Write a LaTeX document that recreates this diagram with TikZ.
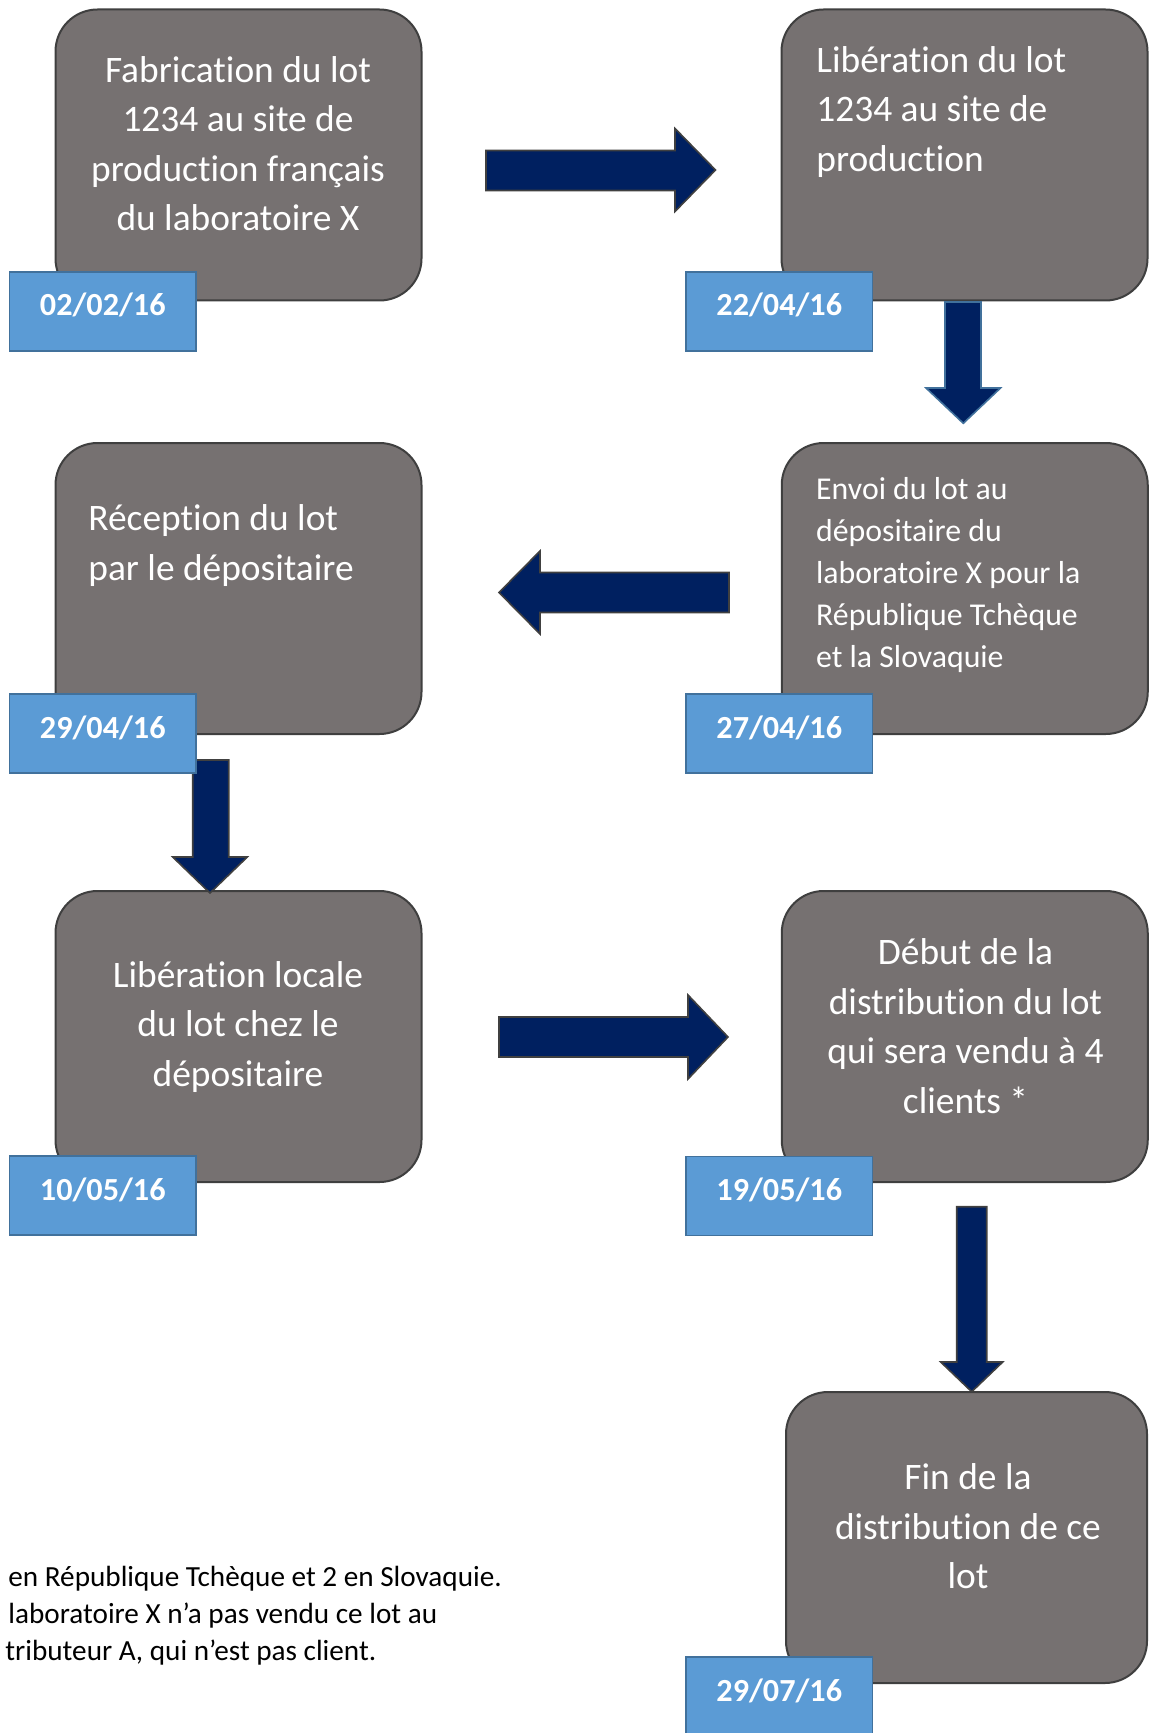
\documentclass[tikz,border=0pt]{standalone}
\usepackage{fontspec}
\setmainfont{Carlito}[Ligatures={NoCommon}]
\definecolor{boxfill}{HTML}{767171}
\definecolor{boxline}{HTML}{3F3F3F}
\definecolor{datefill}{HTML}{5B9BD5}
\definecolor{dateline}{HTML}{41719C}
\definecolor{arrowfill}{HTML}{002060}
\definecolor{arrowgray}{HTML}{404040}
\tikzset{
  stepbox/.style={draw=boxline, fill=boxfill, line width=1pt, rounded corners=21pt,
    minimum width=183pt, minimum height=145.5pt, inner sep=0pt},
  datebox/.style={draw=dateline, fill=datefill, line width=0.75pt,
    minimum width=93.25pt, minimum height=39.5pt, inner sep=0pt, text=white,
    font=\fontsize{16.1}{19}\selectfont\bfseries, text height=12pt, text depth=7.5pt},
  boxtxt/.style={text=white, inner sep=0pt, font=\fontsize{18.7}{24.7}\selectfont},
  smalltxt/.style={text=white, inner sep=0pt, font=\fontsize{15.9}{21}\selectfont},
  notetxt/.style={text=black, inner sep=0pt, font=\fontsize{14.6}{18.5}\selectfont, align=left},
  blockarrow/.style={fill=arrowfill, draw=arrowgray, line width=0.8pt, line join=miter},
  bluearrow/.style={fill=arrowfill, draw=dateline, line width=0.8pt, line join=miter}
}
\begin{document}
\begin{tikzpicture}[x=0.5pt, y=-0.5pt]
\useasboundingbox[fill=white] (0,0) rectangle (1148,1733);

% step boxes
\node[stepbox] (b1) at (238.5,155) {};
\node[stepbox] (b2) at (964.5,155) {};
\node[stepbox] (b3) at (238.5,588.5) {};
\node[stepbox] (b4) at (964.75,588.5) {};
\node[stepbox] (b5) at (238.5,1036.5) {};
\node[stepbox] (b6) at (964.75,1036.5) {};
\node[stepbox, minimum width=180.5pt] (b7) at (966.5,1537.5) {};

% box texts
\node[boxtxt, anchor=north, align=center] (t1) at (238,47.5)
  {\strut Fabrication du lot\\1234 au site de\\production français\\du laboratoire X};
\node[boxtxt, anchor=north west, align=left] (t2) at (816,37.4)
  {\strut Libération du lot\\1234 au site de\\production};
\node[boxtxt, anchor=north west, align=left] (t3) at (88,496)
  {\strut Réception du lot\\par le dépositaire};
\node[smalltxt, anchor=north west, align=left] (t4) at (815.8,470)
  {\strut Envoi du lot au\\dépositaire du\\laboratoire X pour la\\République Tchèque\\et la Slovaquie};
\node[boxtxt, anchor=north, align=center] (t5) at (238,952.5)
  {\strut Libération locale\\du lot chez le\\dépositaire};
\node[boxtxt, anchor=north, align=center] (t6) at (965.5,930)
  {\strut Début de la\\distribution du lot\\qui sera vendu à 4\\clients *};
\node[boxtxt, anchor=north, align=center] (t7) at (968,1455)
  {\strut Fin de la\\distribution de ce\\lot};

% block arrows
\draw[blockarrow] (486,150.5) -- (675,150.5) -- (675,128.5) -- (715.5,170)
  -- (675,211.5) -- (675,190.5) -- (486,190.5) -- cycle;
\draw[bluearrow] (945,302) -- (945,388) -- (926,388) -- (963.3,423.3)
  -- (1000.5,388) -- (981,388) -- (981,302) -- cycle;
\draw[blockarrow] (729,572.5) -- (540,572.5) -- (540,551) -- (499,592.5)
  -- (540,634) -- (540,612.5) -- (729,612.5) -- cycle;
\draw[blockarrow] (192.7,760) -- (192.7,857) -- (172.7,857) -- (210,893)
  -- (247.3,857) -- (228.7,857) -- (228.7,760) -- cycle;
\draw[blockarrow] (499,1017) -- (688,1017) -- (688,995) -- (728,1037)
  -- (688,1079) -- (688,1057) -- (499,1057) -- cycle;
\draw[blockarrow] (956.7,1206.7) -- (956.7,1362) -- (940.7,1362) -- (971.7,1391.7)
  -- (1002.7,1362) -- (986.7,1362) -- (986.7,1206.7) -- cycle;

% date boxes
\node[datebox] (d1) at (102.75,311.5) {02/02/16};
\node[datebox] (d2) at (779.25,311.5) {22/04/16};
\node[datebox] (d3) at (102.75,733.5) {29/04/16};
\node[datebox] (d4) at (779.25,733.5) {27/04/16};
\node[datebox] (d5) at (102.75,1195.5) {10/05/16};
\node[datebox] (d6) at (779.25,1196) {19/05/16};
\node[datebox] (d7) at (779.25,1696.5) {29/07/16};

% footnote
\node[notetxt, anchor=north west] (note) at (8,1560.3)
  {\strut en République Tchèque et 2 en Slovaquie.\\laboratoire X n’a pas vendu ce lot au\\\hspace*{-1.5pt}tributeur A, qui n’est pas client.};
\end{tikzpicture}
\end{document}
